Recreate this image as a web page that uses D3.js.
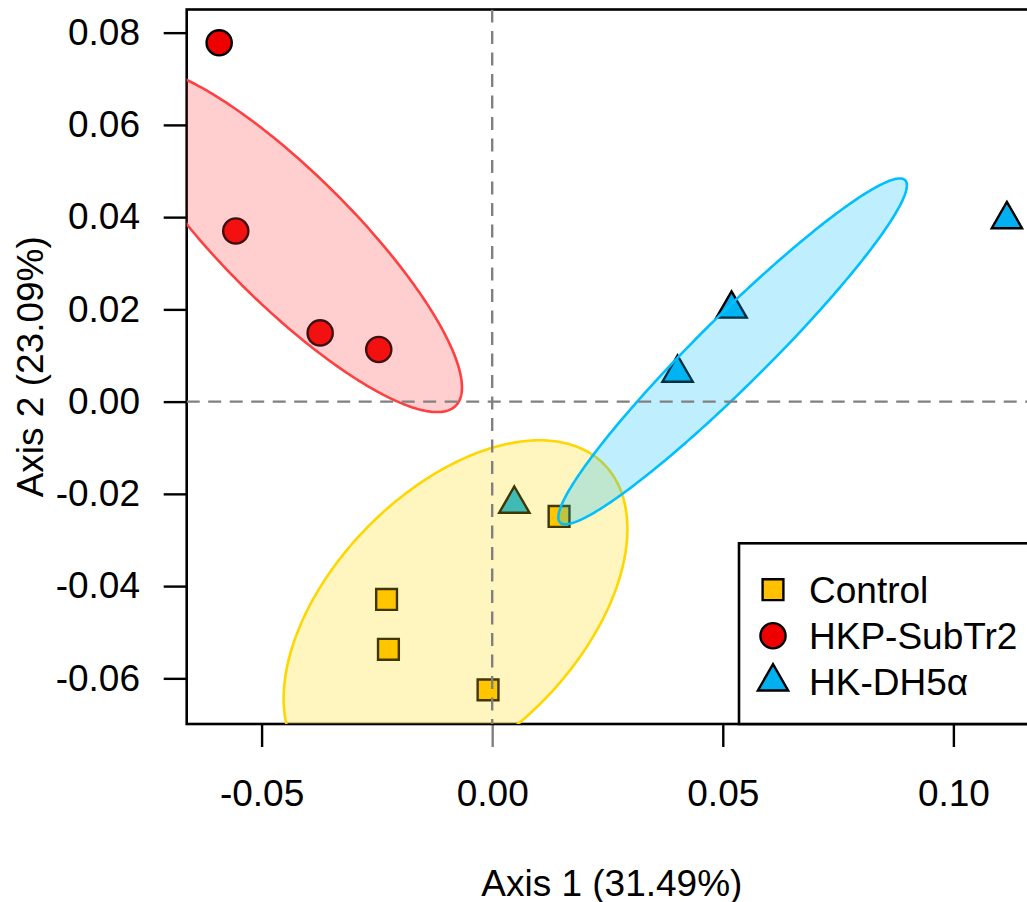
<!DOCTYPE html>
<html>
<head>
<meta charset="utf-8">
<script src="https://cdn.jsdelivr.net/npm/d3@7"></script>
<style>
    body { margin: 0; background: #fff; }
    text { font-family: "Liberation Sans", Arial, sans-serif; }
</style>
</head>
<body>
<div id="chart"></div>
<script>
const groups = ["Control", "HKP-SubTr2", "HK-DH5\u03b1"]
const groupFill = ["#FFC000", "#EE0000", "#00B0F0"]
const groupShape = ["square", "circle", "triangle"]

// ordination scores
const controlX = [-0.0229, -0.0225, -0.0009, 0.0145]
const controlY = [-0.0429, -0.0537, -0.0625, -0.0249]
const subtrX = [-0.0592, -0.0556, -0.0373, -0.0246]
const subtrY = [0.0778, 0.0370, 0.0149, 0.0113]
const dh5aX = [0.0048, 0.0402, 0.0519, 0.1116]
const dh5aY = [-0.0222, 0.0062, 0.0201, 0.0395]

// ellipses around each group centroid, given as two conjugate semi-axes (data units)
const ellipseStroke = ["#FFD700", "#FF4040", "#00BFFF"]
const ellipseAxisA = [[0.01821, 0.03762], [0.03762, -0.03216], [0.03627, 0.03749]]
const ellipseAxisB = [[0.03252, 0], [0, -0.01932], [0.0106, 0]]

const xTicks = [-0.05, 0, 0.05, 0.10]
const yTicks = [-0.06, -0.04, -0.02, 0, 0.02, 0.04, 0.06, 0.08]
const xDomain = [-0.06624, 0.11813]
const yDomain = [-0.06990, 0.08502]
const xTitle = "Axis 1 (31.49%)"
const yTitle = "Axis 2 (23.09%)"

const WIDTH = 1027
const HEIGHT = 902
const LEFT = 186.7, RIGHT = 1037, TOP = 9.5, BOTTOM = 724
const FONT = 37

const seriesX = [controlX, subtrX, dh5aX]
const seriesY = [controlY, subtrY, dh5aY]

const x = d3.scaleLinear().domain(xDomain).range([LEFT, RIGHT])
const y = d3.scaleLinear().domain(yDomain).range([BOTTOM, TOP])

const svg = d3.select("#chart")
    .append("svg")
    .attr("width", WIDTH)
    .attr("height", HEIGHT)

svg.append("defs")
    .append("clipPath")
    .attr("id", "plotclip")
    .append("rect")
        .attr("x", LEFT)
        .attr("y", TOP)
        .attr("width", RIGHT - LEFT)
        .attr("height", BOTTOM - TOP)

function symbolPath(shape, cx, cy) {
    if (shape === "circle") {
        let r = 12.6
        return `M${cx - r},${cy}a${r},${r} 0 1,0 ${2 * r},0a${r},${r} 0 1,0 ${-2 * r},0Z`
    }
    if (shape === "square") {
        let h = 10.4
        return `M${cx - h},${cy - h}H${cx + h}V${cy + h}H${cx - h}Z`
    }
    let r = 17.5
    return `M${cx},${cy - r}L${cx + r * 0.866},${cy + r / 2}L${cx - r * 0.866},${cy + r / 2}Z`
}

// axes
let xAxis = svg.append("g")
    .attr("transform", `translate(0 ${BOTTOM})`)
    .call(d3.axisBottom(x).tickValues(xTicks).tickSize(23).tickPadding(32.7).tickFormat(d => d.toFixed(2)))
xAxis.select(".domain").remove()
xAxis.selectAll("line").attr("stroke-width", 2.4).attr("stroke", d => d === 0 ? "#808080" : "#000")

let yAxis = svg.append("g")
    .attr("transform", `translate(${LEFT} 0)`)
    .call(d3.axisLeft(y).tickValues(yTicks).tickSize(23).tickPadding(23.7).tickFormat(d => d.toFixed(2)))
yAxis.select(".domain").remove()
yAxis.selectAll("line").attr("stroke-width", 2.4)

svg.selectAll(".tick text")
    .attr("font-size", FONT)
    .attr("font-family", "Liberation Sans, Arial, sans-serif")
    .attr("fill", "#000")

svg.append("text")
    .attr("x", (LEFT + RIGHT) / 2)
    .attr("y", 896)
    .attr("text-anchor", "middle")
    .attr("font-size", FONT)
    .text(xTitle)

svg.append("text")
    .attr("transform", `translate(43 ${(TOP + BOTTOM) / 2}) rotate(-90)`)
    .attr("text-anchor", "middle")
    .attr("font-size", FONT)
    .text(yTitle)

// plot box
svg.append("rect")
    .attr("x", LEFT)
    .attr("y", TOP)
    .attr("width", RIGHT - LEFT)
    .attr("height", BOTTOM - TOP)
    .attr("fill", "none")
    .attr("stroke", "#000")
    .attr("stroke-width", 2.6)

// points
let points = []
groups.forEach((g, i) => {
    seriesX[i].forEach((v, j) => {
        points.push({ group: i, x: v, y: seriesY[i][j] })
    })
})

svg.append("g")
    .selectAll("path")
    .data(points)
    .join("path")
        .attr("d", d => symbolPath(groupShape[d.group], x(d.x), y(d.y)))
        .attr("fill", d => groupFill[d.group])
        .attr("stroke", "#000")
        .attr("stroke-width", 2.4)
        .attr("stroke-linejoin", "miter")

// ellipses, centred on each group's mean
let ellipseLine = d3.line().curve(d3.curveLinearClosed)
let ellipses = groups.map((g, i) => {
    let cx = d3.mean(seriesX[i])
    let cy = d3.mean(seriesY[i])
    let a = ellipseAxisA[i]
    let b = ellipseAxisB[i]
    return d3.range(0, 360, 1).map(deg => {
        let t = deg * Math.PI / 180
        return [
            x(cx + a[0] * Math.cos(t) + b[0] * Math.sin(t)),
            y(cy + a[1] * Math.cos(t) + b[1] * Math.sin(t))
        ]
    })
})

svg.append("g")
    .attr("clip-path", "url(#plotclip)")
    .selectAll("path")
    .data(ellipses)
    .join("path")
        .attr("d", ellipseLine)
        .attr("fill", (d, i) => ellipseStroke[i])
        .attr("fill-opacity", 0.25)
        .attr("stroke", (d, i) => ellipseStroke[i])
        .attr("stroke-width", 2.6)

// zero reference lines
let zero = svg.append("g")
    .attr("clip-path", "url(#plotclip)")
    .attr("stroke", "#808080")
    .attr("stroke-width", 2.4)
    .attr("stroke-dasharray", "13,8.5")
zero.append("line")
    .attr("x1", x(0)).attr("x2", x(0))
    .attr("y1", TOP).attr("y2", BOTTOM)
zero.append("line")
    .attr("x1", LEFT).attr("x2", RIGHT)
    .attr("y1", y(0)).attr("y2", y(0))

// legend
let legend = svg.append("g")
legend.append("rect")
    .attr("x", 739)
    .attr("y", 543.3)
    .attr("width", 400)
    .attr("height", BOTTOM - 543.3)
    .attr("fill", "#fff")
    .attr("stroke", "#000")
    .attr("stroke-width", 2.6)

groups.forEach((g, i) => {
    let rowY = 589.7 + i * 46
    legend.append("path")
        .attr("d", symbolPath(groupShape[i], 773, rowY))
        .attr("fill", groupFill[i])
        .attr("stroke", "#000")
        .attr("stroke-width", 2.4)
    legend.append("text")
        .attr("x", 809)
        .attr("y", rowY + 13)
        .attr("font-size", FONT)
        .text(g)
})
</script>
</body>
</html>
